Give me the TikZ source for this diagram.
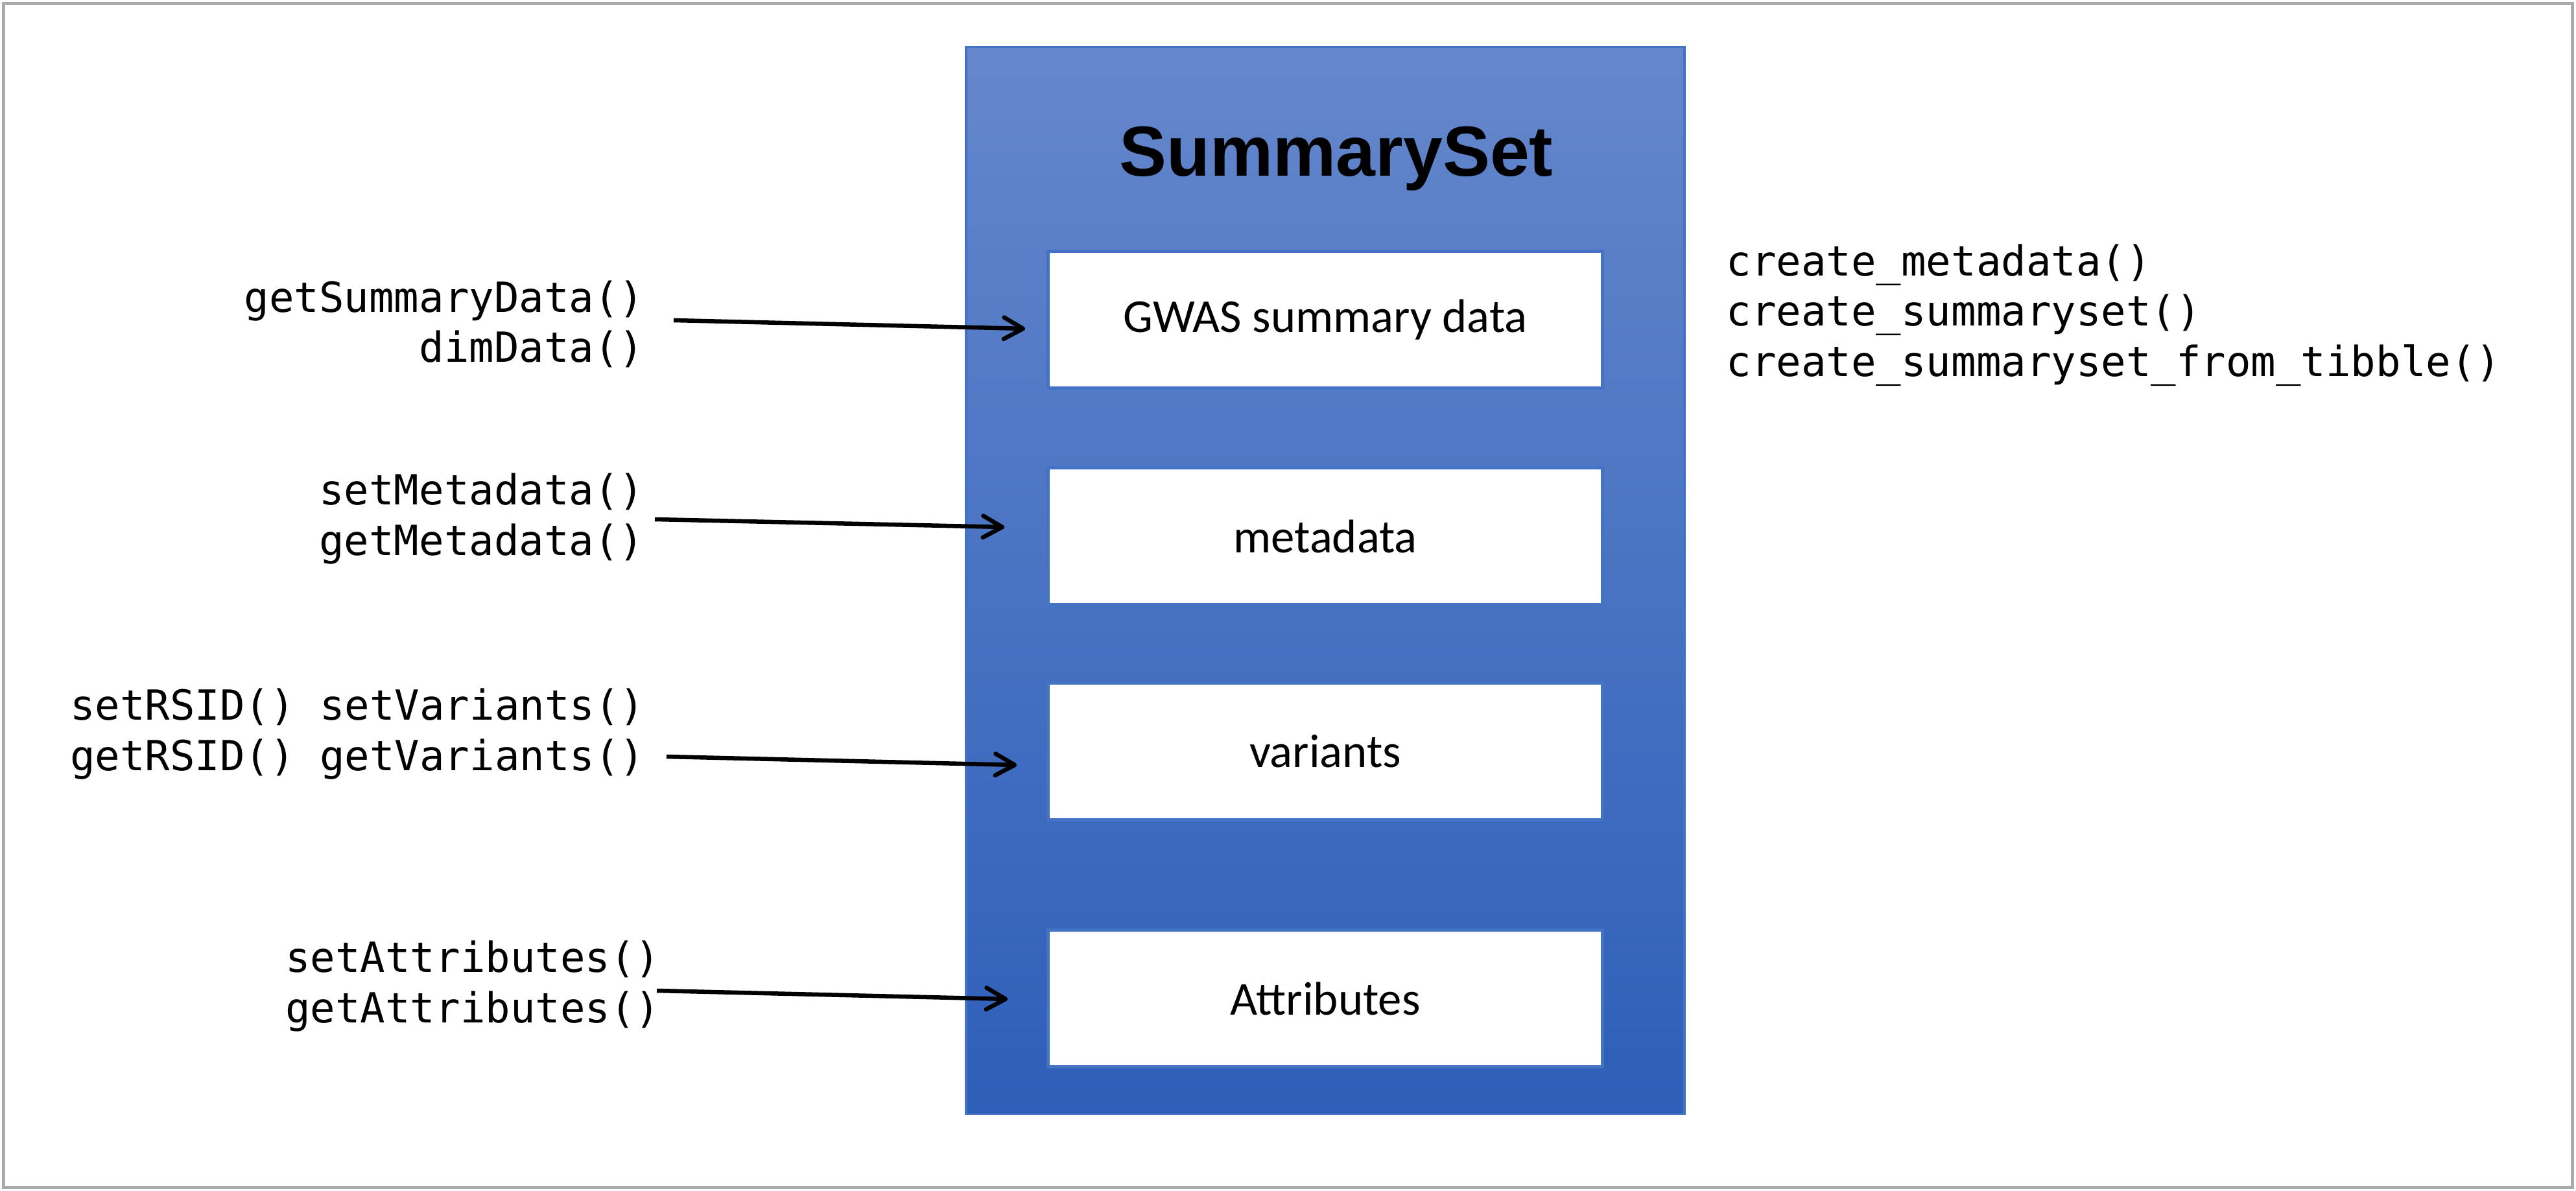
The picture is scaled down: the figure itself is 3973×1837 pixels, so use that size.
\documentclass[tikz,border=0pt]{standalone}
\usepackage{fontspec}
\setmainfont{Carlito}
\setmonofont{DejaVu Sans Mono}
\newfontfamily\headfont{Liberation Sans}
\usetikzlibrary{arrows.meta,calc,positioning}

\definecolor{setblue}{RGB}{68,114,196}
\definecolor{settop}{RGB}{101,135,204}
\definecolor{setbot}{RGB}{45,95,184}
\definecolor{framegray}{RGB}{170,170,170}

\tikzset{
  slot/.style={draw=setblue, line width=1.42pt, fill=white, minimum width=8.54cm,
    minimum height=2.1cm, font=\fontsize{20.7}{25}\selectfont},
  fun/.style={inner sep=0pt, font=\ttfamily\fontsize{18.2}{22}\selectfont},
  arr/.style={line width=1.85pt, -{Straight Barb[length=8.5pt,width=9.5pt,round]}},
}

\begin{document}
\begin{tikzpicture}[x=0.01cm,y=-0.01cm]
\useasboundingbox (0,0) rectangle (3973,1837);
\draw[framegray, line width=1.42pt] (5.5,5.5) rectangle (3967.5,1831.5);

\node[draw=setblue, line width=1.1pt, top color=settop, bottom color=setbot,
  minimum width=11.08cm, minimum height=16.45cm, inner sep=0pt] (sset) at (2044,895.5) {};
\node[anchor=base, font=\headfont\bfseries\fontsize{31.1}{37}\selectfont] (title) at (2061,272) {SummarySet};

\node[slot] (gwas) at (2044,493) {GWAS summary data};
\node[slot] (meta) at (2044,827) {metadata};
\node[slot] (vars) at (2044,1159) {variants};
\node[slot] (attr) at (2044,1540) {Attributes};

\node[fun, align=right, anchor=east] (getdata) at (994,500) {getSummaryData()\\dimData()};
\node[fun, align=right, anchor=east] (getmeta) at (994,800) {setMetadata()\\getMetadata()};
\node[fun, align=right, anchor=east] (getvars) at (995,1132) {setRSID() setVariants()\\getRSID() getVariants()};
\node[fun, align=right, anchor=east] (getattr) at (1019,1521) {setAttributes()\\getAttributes()};
\node[fun, align=left, anchor=west] (create) at (2662,486)
  {create\_metadata()\\create\_summaryset()\\create\_summaryset\_from\_tibble()};

\draw[arr] ($(getdata.east)+(45,-6)$) -- ($(gwas.west)+(-33,14)$);
\draw[arr] ($(getmeta.east)+(16,1)$) -- ($(meta.west)+(-65,-14)$);
\draw[arr] ($(getvars.east)+(33,35)$) -- ($(vars.west)+(-46,21)$);
\draw[arr] ($(getattr.east)+(-6,7)$) -- ($(attr.west)+(-60,1)$);
\end{tikzpicture}
\end{document}
